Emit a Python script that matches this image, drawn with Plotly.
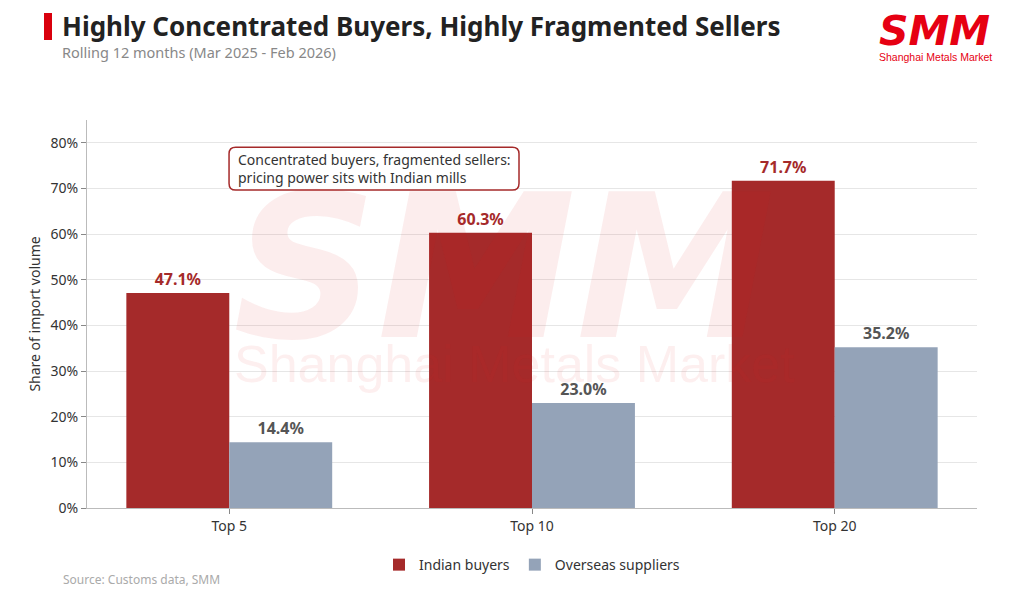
import plotly.graph_objects as go

# Share of import volume held by the top N players, rolling 12 months
categories = ['Top 5', 'Top 10', 'Top 20']
indian_buyers = [47.1, 60.3, 71.7]
overseas_suppliers = [14.4, 23.0, 35.2]

BUYER_RED = '#A52A2A'
SUPPLIER_GREY = '#94A3B8'
FONT = 'Noto Sans'

fig = go.Figure()

fig.add_trace(go.Bar(
    name='Indian buyers', x=categories, y=indian_buyers,
    marker=dict(color=BUYER_RED, line=dict(width=0)),
    text=['{:.1f}%'.format(v) for v in indian_buyers], textposition='outside',
    textfont=dict(family=FONT, size=16, color=BUYER_RED, weight='bold'),
    cliponaxis=False,
))
fig.add_trace(go.Bar(
    name='Overseas suppliers', x=categories, y=overseas_suppliers,
    marker=dict(color=SUPPLIER_GREY, line=dict(width=0)),
    text=['{:.1f}%'.format(v) for v in overseas_suppliers], textposition='outside',
    textfont=dict(family=FONT, size=16, color='#555555', weight='bold'),
    cliponaxis=False,
))

# page has an 8px body offset, so margins are trimmed to land the plot area where it should be
fig.update_layout(
    width=1024, height=605,
    margin=dict(l=79, r=55, t=112, b=105),
    paper_bgcolor='white', plot_bgcolor='white',
    font=dict(family=FONT, size=14, color='#333333'),
    barmode='group', bargap=0.32, bargroupgap=0,
    showlegend=True,
    legend=dict(orientation='h', x=0.5, xanchor='center', y=-0.147, yanchor='middle',
                font=dict(size=14, color='#333333'), itemwidth=30, traceorder='normal'),
)

fig.update_xaxes(
    range=[-0.47, 2.47], showline=True, linecolor='#bbbbbb', linewidth=1,
    ticks='outside', ticklen=5, tickcolor='#888888', showgrid=False,
    tickfont=dict(size=14, color='#333333'),
)
fig.update_yaxes(
    range=[0, 85], dtick=10, ticksuffix='%', showline=True, linecolor='#bbbbbb', linewidth=1,
    ticks='outside', ticklen=5, tickcolor='#888888', gridcolor='#e6e6e6', zeroline=False,
    tickfont=dict(size=14, color='#333333'),
    title=dict(text='Share of import volume', font=dict(size=14, color='#333333'), standoff=6),
)

# faint watermark
fig.add_annotation(text='SMM', xref='paper', yref='paper', x=0.468, y=0.62,
                   showarrow=False,
                   font=dict(family='DejaVu Sans', size=200, color='rgba(220,30,30,0.08)',
                             weight='bold', style='italic'))
fig.add_annotation(text='Shanghai Metals Market', xref='paper', yref='paper', x=0.48, y=0.29,
                   showarrow=False,
                   font=dict(family='Liberation Sans', size=52, color='rgba(220,30,30,0.07)'))

# callout box with rounded corners
bx0, bx1, by0, by1 = 0.1596, 0.4854, 0.8196, 0.930
rx, ry = 0.0075, 0.017
fig.add_shape(
    type='path', xref='paper', yref='paper',
    path=('M {a},{d} L {b},{d} Q {x1},{y1} {x1},{e} L {x1},{f} Q {x1},{y0} {b},{y0} '
          'L {a},{y0} Q {x0},{y0} {x0},{f} L {x0},{e} Q {x0},{y1} {a},{d} Z').format(
        a=bx0 + rx, b=bx1 - rx, d=by1, e=by1 - ry, f=by0 + ry,
        x0=bx0, x1=bx1, y0=by0, y1=by1),
    line=dict(color=BUYER_RED, width=1.5), fillcolor='white',
)
fig.add_annotation(text='Concentrated buyers, fragmented sellers:<br>pricing power sits with Indian mills',
                   xref='paper', yref='paper', x=bx0 + 0.008, y=(by0 + by1) / 2,
                   xanchor='left', yanchor='middle', align='left', showarrow=False,
                   font=dict(size=14, color='#333333'))

# header: red accent bar, title, subtitle
fig.add_shape(type='rect', xref='paper', yref='paper',
              x0=(44 - 87) / 890, x1=(52 - 87) / 890, y0=(508 - 40) / 388, y1=(508 - 13) / 388,
              fillcolor='#D9000D', line=dict(width=0))
fig.add_annotation(text='<b>Highly Concentrated Buyers, Highly Fragmented Sellers</b>',
                   xref='paper', yref='paper', x=(60 - 87) / 890, y=(508 - 26) / 388,
                   xanchor='left', yanchor='middle', showarrow=False,
                   font=dict(size=26, color='#222222'))
fig.add_annotation(text='Rolling 12 months (Mar 2025 - Feb 2026)',
                   xref='paper', yref='paper', x=(60 - 87) / 890, y=(508 - 52) / 388,
                   xanchor='left', yanchor='middle', showarrow=False,
                   font=dict(size=14.5, color='#888888'))

# logo, top right
fig.add_annotation(text='SMM', xref='paper', yref='paper', x=(934 - 87) / 890, y=(508 - 31) / 388,
                   xanchor='center', yanchor='middle', showarrow=False,
                   font=dict(family='DejaVu Sans', size=41, color='#E60012',
                             weight='bold', style='italic'))
fig.add_annotation(text='Shanghai Metals Market', xref='paper', yref='paper',
                   x=(935 - 87) / 890, y=(508 - 57) / 388,
                   xanchor='center', yanchor='middle', showarrow=False,
                   font=dict(family='Liberation Sans', size=10.5, color='#E60012'))

# source note
fig.add_annotation(text='Source: Customs data, SMM', xref='paper', yref='paper',
                   x=(61 - 87) / 890, y=(508 - 579) / 388,
                   xanchor='left', yanchor='middle', showarrow=False,
                   font=dict(size=12, color='#aaaaaa'))

fig.write_html("out.html")
